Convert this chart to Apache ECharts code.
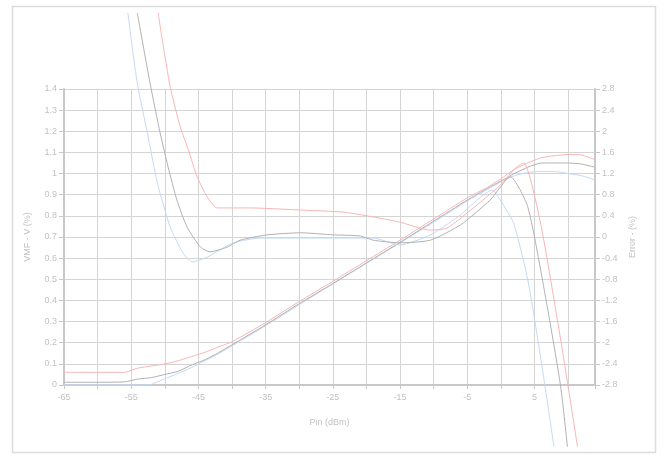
<!DOCTYPE html>
<html>
<head>
<meta charset="utf-8">
<script src="https://cdn.jsdelivr.net/npm/echarts@6/dist/echarts.min.js"></script>
<style>html,body{margin:0;padding:0;background:#fff}#c{width:663px;height:458px}</style>
</head>
<body>
<div id="c"></div>
<script>
// x-axis (dBm) sample positions for the rising curves
const risingX = [-65,-60,-56,-54,-52,-50,-48,-46,-44,-42,-40,-35,-30,-25,-20,-15,-10,-5,-2,0,2,4,6,8,10,12,14];
// rising curves (left axis)
const risingBlue = [0,0,0,0,0.003,0.03,0.055,0.083,0.115,0.148,0.185,0.28,0.38,0.478,0.575,0.672,0.77,0.87,0.925,0.96,0.99,1.005,1.01,1.01,1.0,0.99,0.97];
const risingGray = [0.013,0.013,0.015,0.028,0.035,0.05,0.065,0.095,0.12,0.153,0.19,0.285,0.385,0.48,0.578,0.675,0.775,0.875,0.93,0.965,1.0,1.03,1.05,1.05,1.05,1.045,1.03];
const risingRed  = [0.06,0.06,0.06,0.08,0.09,0.1,0.115,0.135,0.155,0.18,0.205,0.295,0.395,0.49,0.588,0.685,0.785,0.885,0.935,0.975,1.02,1.05,1.075,1.085,1.09,1.088,1.065];

// U-shaped curves (right axis)
const errBlueX = [-55.5,-54.1,-52.6,-51.1,-49.2,-47.3,-45.9,-43.7,-39.8,-35.8,-30,-22.4,-19,-15,-10.5,-6,-3,-1.3,0.3,1.9,4,5.9,7.9];
const errBlueY = [4.24,2.91,1.97,1.02,0.19,-0.30,-0.47,-0.38,-0.11,-0.02,-0.02,-0.02,-0.02,-0.15,0.04,0.42,0.76,0.89,0.62,0.26,-0.81,-2.27,-3.97];
const errGrayX = [-54.1,-52.2,-50.7,-49.5,-48.2,-46.7,-44.7,-43.3,-40.7,-38.8,-34.8,-29.8,-24.9,-20.9,-19,-15,-10.5,-6,-1.6,1.4,4,6.9,8.9,9.9];
const errGrayY = [4.24,2.91,1.97,1.32,0.70,0.19,-0.19,-0.28,-0.19,-0.06,0.04,0.08,0.04,0.02,-0.06,-0.11,-0.06,0.23,0.70,1.14,0.57,-1.32,-2.84,-3.97];
const errRedX = [-51,-50.3,-49.2,-47.7,-46.5,-45.2,-43.7,-42.2,-37.3,-29.8,-23.4,-19,-15,-10.5,-8,-4.5,-0.1,2.2,3.4,5.9,8.9,11.4];
const errRedY = [4.24,3.67,2.84,2.08,1.65,1.14,0.76,0.55,0.55,0.51,0.47,0.38,0.28,0.13,0.17,0.51,0.98,1.31,1.40,0.26,-1.95,-3.97];

const xLabelTicks = [-65,-55,-45,-35,-25,-15,-5,5];

const BLUE = '#c4daf6', GRAY = '#b2b2b2', RED = '#f8b6b6';
const zip = (xs, ys) => xs.map((x, i) => [x, ys[i]]);

const chart = echarts.init(document.getElementById('c'), null, {renderer: 'canvas'});
const labelStyle = {color: '#c2c2c2', fontSize: 9, fontFamily: 'Liberation Sans, Arial, sans-serif'};
const nameStyle = {color: '#c2c2c2', fontSize: 9, fontFamily: 'Liberation Sans, Arial, sans-serif'};

function line(name, data, color, yIdx) {
  return {
    name, type: 'line', yAxisIndex: yIdx, data, showSymbol: false, symbol: 'none',
    smooth: 0.2, clip: false, animation: false,
    lineStyle: {color, width: 1}, itemStyle: {color}
  };
}

chart.setOption({
  animation: false,
  backgroundColor: '#fff',
  grid: {left: 64, right: 68, top: 89, bottom: 73},
  graphic: [{
    type: 'rect', z: -1,
    shape: {x: 12.5, y: 6.5, width: 643, height: 446},
    style: {fill: 'none', stroke: '#dcdcdc', lineWidth: 1.5}
  }],
  xAxis: {
    type: 'value', min: -65, max: 14, interval: 5,
    name: 'Pin (dBm)', nameLocation: 'middle', nameGap: 33, nameTextStyle: nameStyle,
    axisLine: {show: true, onZero: false, lineStyle: {color: '#c8c8c8', width: 2}},
    axisTick: {show: true, length: 4, lineStyle: {color: '#c8c8c8'}},
    axisLabel: Object.assign({}, labelStyle, {
      margin: 8,
      formatter: v => xLabelTicks.includes(Math.round(v)) ? String(Math.round(v)) : ''
    }),
    splitLine: {show: true, lineStyle: {color: '#d4d4d4', width: 1}}
  },
  yAxis: [{
    type: 'value', min: 0, max: 1.4, interval: 0.1, position: 'left',
    name: 'VMF - V (%)', nameLocation: 'middle', nameGap: 32, nameRotate: 90, nameTextStyle: nameStyle,
    axisLine: {show: true, onZero: false, lineStyle: {color: '#c8c8c8', width: 2}},
    axisTick: {show: true, length: 5, lineStyle: {color: '#c8c8c8'}},
    axisLabel: Object.assign({}, labelStyle, {margin: 7, formatter: v => String(Math.round(v * 10) / 10)}),
    splitLine: {show: true, lineStyle: {color: '#d4d4d4', width: 1}}
  }, {
    type: 'value', min: -2.8, max: 2.8, interval: 0.4, position: 'right',
    name: 'Error - (%)', nameLocation: 'middle', nameGap: 33, nameRotate: 90, nameTextStyle: nameStyle,
    axisLine: {show: true, onZero: false, lineStyle: {color: '#c8c8c8', width: 2}},
    axisTick: {show: true, length: 5, lineStyle: {color: '#c8c8c8'}},
    axisLabel: Object.assign({}, labelStyle, {margin: 7, formatter: v => String(Math.round(v * 10) / 10)}),
    splitLine: {show: false}
  }],
  series: [
    line('Blue rising', zip(risingX, risingBlue), BLUE, 0),
    line('Gray rising', zip(risingX, risingGray), GRAY, 0),
    line('Red rising', zip(risingX, risingRed), RED, 0),
    line('Blue error', zip(errBlueX, errBlueY), BLUE, 1),
    line('Gray error', zip(errGrayX, errGrayY), GRAY, 1),
    line('Red error', zip(errRedX, errRedY), RED, 1)
  ]
});
</script>
</body>
</html>
